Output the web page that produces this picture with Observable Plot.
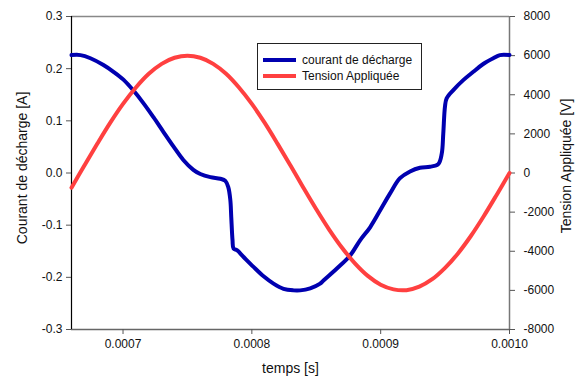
<!DOCTYPE html>
<html>
<head>
<meta charset="utf-8">
<script src="https://cdn.jsdelivr.net/npm/d3@7"></script>
<script src="https://cdn.jsdelivr.net/npm/@observablehq/plot@0.6"></script>
<style>
  html, body { margin: 0; padding: 0; background: #fff; }
  #wrap { position: relative; width: 576px; height: 381px; overflow: hidden; font-family: "Liberation Sans", Arial, sans-serif; }
  #legend { position: absolute; left: 257px; top: 43px; width: 163px; height: 45px; border: 1px solid #222; background: #fff; font-size: 12px; color: #111; }
  .item { position: absolute; left: 5px; height: 14px; display: flex; align-items: center; }
  .swatch { width: 33px; height: 4px; margin-right: 6px; }
</style>
</head>
<body>
<div id="wrap">
  <div id="chart"></div>
  <div id="legend"></div>
</div>
<script>
// ---- data ----
const seriesNames = ["courant de décharge", "Tension Appliquée"];
const seriesColors = ["#0000b0", "#ff4040"];

// courant de décharge [A]
const tCourant = [0.000660, 0.000667, 0.0006747, 0.0006848, 0.0006926, 0.0007003, 0.0007081, 0.0007158, 0.0007236, 0.0007313,
  0.0007391, 0.0007468, 0.0007546, 0.0007600, 0.0007678, 0.0007755, 0.0007794, 0.0007817, 0.0007833, 0.0007840,
  0.0007850, 0.0007858, 0.0007884, 0.0007936, 0.0008013, 0.0008091, 0.0008168, 0.0008246, 0.0008323, 0.0008375,
  0.0008453, 0.0008530, 0.0008556, 0.0008660, 0.0008763, 0.0008840, 0.0008918, 0.0008995, 0.0009073, 0.0009150,
  0.0009228, 0.0009305, 0.0009383, 0.0009447, 0.0009474, 0.0009486, 0.0009499, 0.0009512, 0.0009564, 0.0009641,
  0.0009719, 0.0009796, 0.0009874, 0.0009926, 0.0010000];
const courant = [0.226, 0.226, 0.220, 0.207, 0.194, 0.179, 0.158, 0.134, 0.107, 0.079,
  0.051, 0.025, 0.006, -0.002, -0.008, -0.011, -0.015, -0.027, -0.052, -0.084,
  -0.129, -0.145, -0.148, -0.161, -0.180, -0.198, -0.212, -0.222, -0.225, -0.225,
  -0.221, -0.212, -0.206, -0.183, -0.158, -0.129, -0.104, -0.072, -0.039, -0.010,
  0.003, 0.010, 0.012, 0.017, 0.037, 0.076, 0.127, 0.143, 0.159, 0.178,
  0.194, 0.209, 0.220, 0.226, 0.226];

// Tension Appliquée [V]
const tTension = [0.00066, 0.00067, 0.00068, 0.00069, 0.00070, 0.00071, 0.00072, 0.00073, 0.00074, 0.00075,
  0.00076, 0.00077, 0.00078, 0.00079, 0.00080, 0.00081, 0.00082, 0.00083, 0.00084, 0.00085,
  0.00086, 0.00087, 0.00088, 0.00089, 0.00090, 0.00091, 0.00092, 0.00093, 0.00094, 0.00095,
  0.00096, 0.00097, 0.00098, 0.00099, 0.00100];
const tension = [-750, 380, 1490, 2560, 3530, 4370, 5070, 5580, 5890, 6000,
  5890, 5580, 5070, 4370, 3530, 2560, 1490, 380, -750, -1850,
  -2890, -3820, -4620, -5260, -5710, -5950, -5990, -5810, -5430, -4850,
  -4110, -3220, -2210, -1120, 0];

// ticks
const xTicks = [0.0007, 0.0008, 0.0009, 0.0010];
const leftTicks = [-0.3, -0.2, -0.1, 0.0, 0.1, 0.2, 0.3];
const rightTicks = [-8000, -6000, -4000, -2000, 0, 2000, 4000, 6000, 8000];
const xDomain = [0.00066, 0.0010];
const leftDomain = [-0.3, 0.3];
const rightDomain = [-8000, 8000];
const titles = {x: "temps [s]", left: "Courant de décharge [A]", right: "Tension Appliquée [V]"};

// ---- build ----
const k = (leftDomain[1] - leftDomain[0]) / (rightDomain[1] - rightDomain[0]);
const courantData = tCourant.map((t, i) => ({t, v: courant[i]}));
const tensionData = tTension.map((t, i) => ({t, v: tension[i] * k}));

const chart = Plot.plot({
  width: 576,
  height: 381,
  marginLeft: 71,
  marginRight: 67,
  marginTop: 16,
  marginBottom: 52,
  style: {fontFamily: "'Liberation Sans', Arial, sans-serif", fontSize: "12px", color: "#111", background: "#fff"},
  x: {domain: xDomain, axis: null},
  y: {domain: leftDomain, axis: null},
  marks: [
    Plot.ruleY([leftDomain[1]], {stroke: "#888", strokeWidth: 1.5}),
    Plot.ruleY([leftDomain[0]], {stroke: "#666", strokeWidth: 1.5}),
    Plot.ruleX([xDomain[1]], {stroke: "#777", strokeWidth: 1.5}),
    Plot.ruleX([xDomain[0]], {stroke: "#000", strokeWidth: 1.2}),
    Plot.axisX(xTicks, {tickSize: 5, tickPadding: 5, stroke: "#555", tickFormat: d => d.toFixed(4), label: null}),
    Plot.axisY(leftTicks, {anchor: "left", tickSize: 5, tickPadding: 4, stroke: "#555", tickFormat: d => d.toFixed(1), label: null}),
    Plot.axisY(rightTicks.map(v => v * k), {anchor: "right", tickSize: 5, tickPadding: 9, stroke: "#555", tickFormat: d => String(Math.round(d / k)), label: null}),
    Plot.line(courantData, {x: "t", y: "v", stroke: seriesColors[0], strokeWidth: 4, curve: "catmull-rom"}),
    Plot.line(tensionData, {x: "t", y: "v", stroke: seriesColors[1], strokeWidth: 4, curve: "catmull-rom"}),
    Plot.text([titles.x], {frameAnchor: "bottom", dy: 43, fontSize: 14, fill: "#111", textAnchor: "middle"}),
    Plot.text([titles.left], {frameAnchor: "left", dx: -49, dy: -5, rotate: -90, fontSize: 14, fill: "#111", textAnchor: "middle"}),
    Plot.text([titles.right], {frameAnchor: "right", dx: 57, dy: -7, rotate: -90, fontSize: 14, fill: "#111", textAnchor: "middle"})
  ]
});
document.getElementById("chart").appendChild(chart);

const legend = document.getElementById("legend");
seriesNames.forEach((name, i) => {
  const item = document.createElement("div");
  item.className = "item";
  item.style.top = (9 + i * 16) + "px";
  const sw = document.createElement("div");
  sw.className = "swatch";
  sw.style.background = seriesColors[i];
  const label = document.createElement("span");
  label.textContent = name;
  item.appendChild(sw);
  item.appendChild(label);
  legend.appendChild(item);
});
</script>
</body>
</html>
